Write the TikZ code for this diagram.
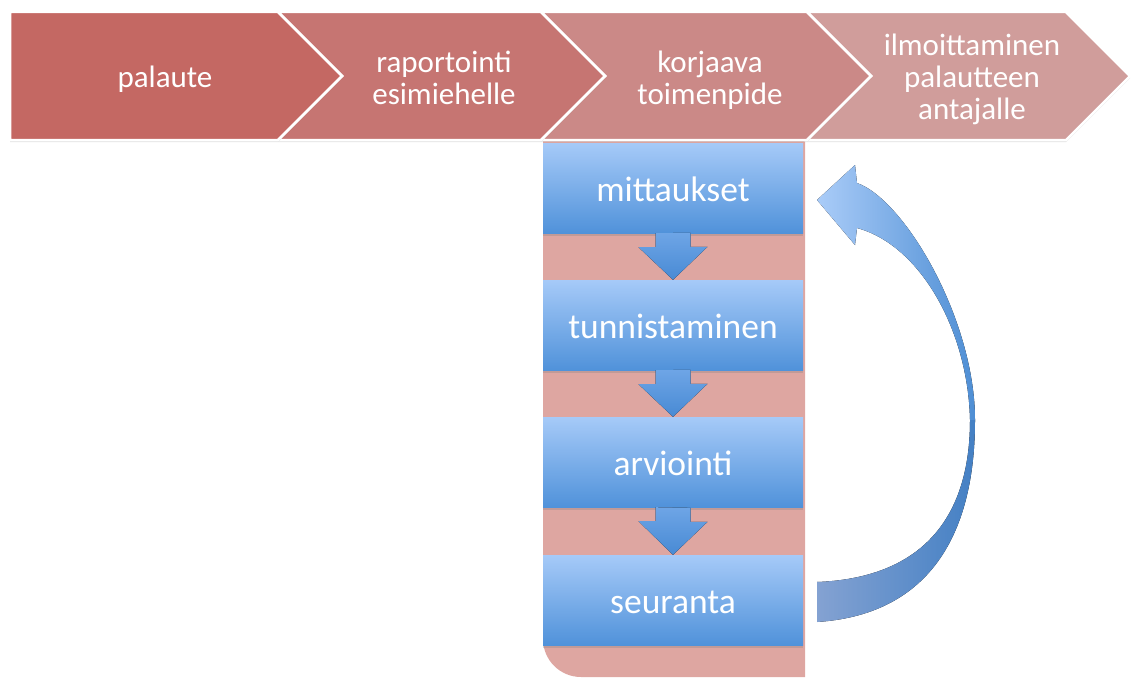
\documentclass[tikz,border=0pt]{standalone}
\usepackage{fontspec}
\setmainfont{Carlito}
\usetikzlibrary{shadows}

\definecolor{chevA}{RGB}{196,104,99}
\definecolor{chevB}{RGB}{198,117,114}
\definecolor{chevC}{RGB}{203,137,135}
\definecolor{chevD}{RGB}{208,157,155}
\definecolor{colpink}{RGB}{222,166,161}
\definecolor{boxtop}{RGB}{166,202,248}
\definecolor{boxbot}{RGB}{80,146,218}
\definecolor{arrtop}{RGB}{110,165,230}
\definecolor{arrbot}{RGB}{72,138,212}
\definecolor{loopfrontL}{RGB}{170,204,248}
\definecolor{loopfrontR}{RGB}{78,142,212}
\definecolor{loopbackL}{RGB}{132,162,210}
\definecolor{loopbackR}{RGB}{68,128,196}

\tikzset{
  chevron/.style={draw=white, line width=2.5pt, line join=miter,
    drop shadow={shadow xshift=0pt, shadow yshift=-2pt, opacity=0.25}},
  chevlabel/.style={text=white, align=center, inner sep=0pt,
    font=\fontsize{31}{32}\selectfont},
  stagebox/.style={top color=boxtop, bottom color=boxbot,
    minimum width=260pt, minimum height=90pt, inner sep=0pt,
    text=white, font=\fontsize{35.5}{40}\selectfont,
    text height=26pt, text depth=0pt,
    drop shadow={shadow xshift=0pt, shadow yshift=-3pt, opacity=0.3}},
  downarrow/.style={top color=arrtop, bottom color=arrbot},
  loopfront/.style={left color=loopfrontL, right color=loopfrontR},
  loopback/.style={left color=loopbackL, right color=loopbackR},
}

\begin{document}
\begin{tikzpicture}[x=1pt,y=-1pt]
\useasboundingbox (0,0) rectangle (1134,677);

% pink column behind the measurement steps
\fill[colpink] (543,141) -- (805,141) -- (805,677) -- (581,677)
  .. controls (560,677) and (543,660) .. (543,639) -- cycle;

% process chevrons, right to left
\path[chevron, fill=chevD] (807,12) -- (1066,12) -- (1130,76) -- (1066,140) -- (807,140) -- (871,76) -- cycle;
\path[chevron, fill=chevC] (541,12) -- (807,12) -- (871,76) -- (807,140) -- (541,140) -- (605,76) -- cycle;
\path[chevron, fill=chevB] (278,12) -- (541,12) -- (605,76) -- (541,140) -- (278,140) -- (342,76) -- cycle;
\path[chevron, fill=chevA] (10,12) -- (278,12) -- (342,76) -- (278,140) -- (10,140) -- cycle;

\node[chevlabel] (lab1) at (165,79) {palaute};
\node[chevlabel] (lab2) at (444,78) {raportointi\\esimiehelle};
\node[chevlabel] (lab3) at (710,80) {korjaava\\toimenpide};
\node[chevlabel] (lab4) at (972,79) {ilmoittaminen\\palautteen\\antajalle};

% measurement steps
\node[stagebox] (mit) at (673,188) {mittaukset};
\node[stagebox] (tun) at (673,325) {tunnistaminen};
\node[stagebox] (arv) at (673,462) {arviointi};
\node[stagebox] (seu) at (673,600) {seuranta};

% block arrows between consecutive steps
\foreach \a/\b in {mit/tun, tun/arv, arv/seu}
  \fill[downarrow] (\a.south) ++(-17.5,0) -- ++(0,14) -- ++(-17,0) -- (\b.north)
    -- ++(34.5,-33) -- ++(-17,0) -- ++(0,-14) -- cycle;

% feedback loop arrow from seuranta back to mittaukset
\coordinate (tip) at (817,200);
\coordinate (tailtop) at (817,582);
\coordinate (tailbot) at (817,622);
\fill[loopfront] (970,420) .. controls (968,330) and (920,245) .. (857,228)
  -- (855,245) -- (tip) -- (855,165) -- (857,183)
  .. controls (905,200) and (975,320) .. (975,420) -- cycle;
\fill[loopback] (975,420) .. controls (975,540) and (925,615) .. (tailbot)
  -- (tailtop) .. controls (920,578) and (970,520) .. (970,420) -- cycle;
\end{tikzpicture}
\end{document}
